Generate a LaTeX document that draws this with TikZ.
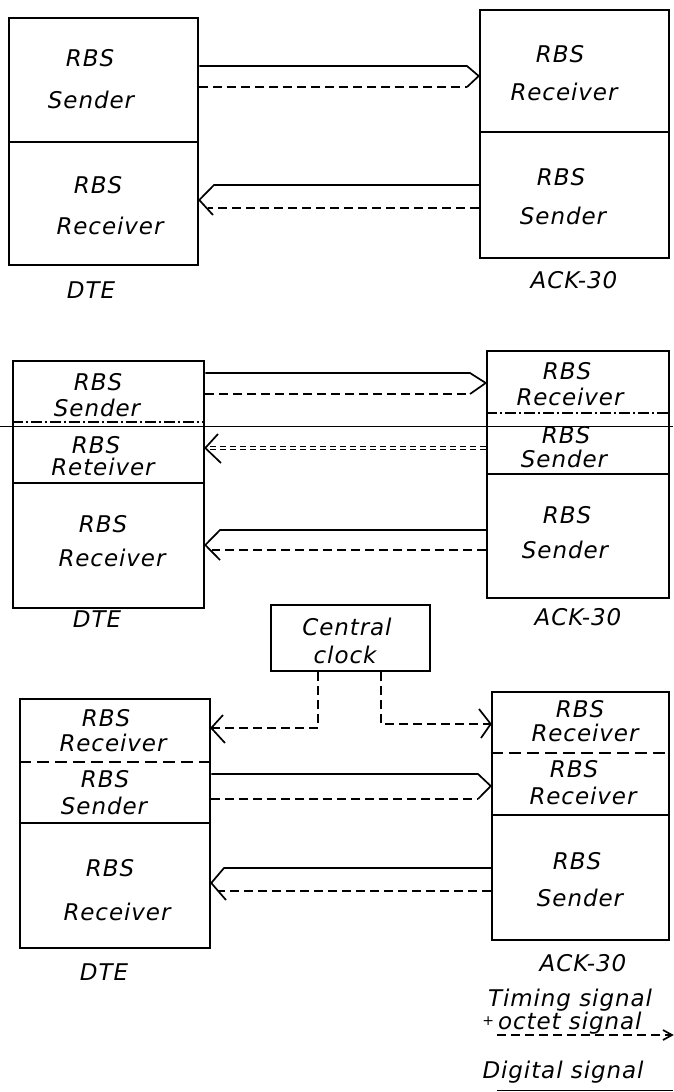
\documentclass[tikz,border=0pt]{standalone}
\usepackage{fontspec}
\newfontfamily\hand{DejaVu Sans}[LetterSpace=4]
\usetikzlibrary{calc}
\begin{document}
\begin{tikzpicture}[x=1pt,y=-1pt,
  box/.style={draw, line width=2.5pt, inner sep=0pt},
  divline/.style={line width=2.5pt},
  dashdiv/.style={line width=2.2pt, dash pattern=on 11pt off 3pt on 2pt off 3pt},
  longdiv/.style={line width=2.4pt, dash pattern=on 12pt off 6pt},
  lbl/.style={font=\hand\itshape\fontsize{23}{27}\selectfont, inner sep=0pt},
  sig/.style={line width=1.7pt, line join=miter},
  dsh/.style={line width=1.7pt, dash pattern=on 9pt off 5pt},
  dbl/.style={line width=1.2pt, double distance=2.2pt, dash pattern=on 6pt off 4pt}]
\fill[white] (0,0) rectangle (673,1092);
\useasboundingbox (0,0) rectangle (673,1092);

% ---------- section 1 ----------
\node[box, minimum width=189pt, minimum height=247pt] (dte1) at (103.5,141.5) {};
\node[box, minimum width=189pt, minimum height=248pt] (ack1) at (574.5,134) {};
\draw[divline] (dte1.west |- 0,142) -- (dte1.east |- 0,142);
\draw[divline] (ack1.west |- 0,132) -- (ack1.east |- 0,132);
\node[lbl] (t1a) at (90,58) {RBS};
\node[lbl] (t1b) at (91,100) {Sender};
\node[lbl] (t1c) at (98,185) {RBS};
\node[lbl] (t1d) at (110,226) {Receiver};
\node[lbl] (t1e) at (560,54) {RBS};
\node[lbl] (t1f) at (564,92) {Receiver};
\node[lbl] (t1g) at (561,177) {RBS};
\node[lbl] (t1h) at (563,216) {Sender};
\node[lbl] (dtel1) at (91,290) {DTE};
\node[lbl] (ackl1) at (574,280) {ACK-30};

\draw[sig] (dte1.east |- 0,66) -- (467,66) -- (ack1.west |- 0,76) -- (467,87);
\draw[dsh] (dte1.east |- 0,87) -- (467,87);
\draw[sig] (ack1.west |- 0,185) -- (214,185) -- (dte1.east |- 0,200) -- (213,215);
\draw[dsh] (ack1.west |- 0,208) -- (208,208);

% ---------- section 2 ----------
\node[box, minimum width=191pt, minimum height=247pt] (dte2) at (108.5,484.5) {};
\node[box, minimum width=182pt, minimum height=247pt] (ack2) at (578,474.5) {};
\draw[dashdiv] (dte2.west |- 0,422) -- (dte2.east |- 0,422);
\draw[divline] (dte2.west |- 0,483) -- (dte2.east |- 0,483);
\draw[dashdiv] (ack2.west |- 0,413) -- (ack2.east |- 0,413);
\draw[divline] (ack2.west |- 0,474) -- (ack2.east |- 0,474);
\node[lbl] (t2a) at (98,382) {RBS};
\node[lbl] (t2b) at (97,408) {Sender};
\node[lbl] (t2c) at (96,445) {RBS};
\node[lbl] (t2d) at (103,467) {Reteiver};
\node[lbl] (t2e) at (103,524) {RBS};
\node[lbl] (t2f) at (112,558) {Receiver};
\node[lbl] (t2g) at (567,371) {RBS};
\node[lbl] (t2h) at (570,397) {Receiver};
\node[lbl] (t2i) at (566,435) {RBS};
\node[lbl] (t2j) at (564,459) {Sender};
\node[lbl] (t2k) at (567,515) {RBS};
\node[lbl] (t2l) at (565,550) {Sender};
\node[lbl] (dtel2) at (97,619) {DTE};
\node[lbl] (ackl2) at (578,617) {ACK-30};

\draw[sig] (dte2.east |- 0,373) -- (470,373) -- (ack2.west |- 0,383) -- (470,394);
\draw[dsh] (dte2.east |- 0,394) -- (470,394);
\draw[dbl] (ack2.west |- 0,448) -- (210,448);
\draw[sig] (218,434) -- (dte2.east |- 0,448) -- (221,463);
\draw[sig] (ack2.west |- 0,530) -- (220,530) -- (dte2.east |- 0,545) -- (220,560);
\draw[dsh] (ack2.west |- 0,550) -- (212,550);

% thin line across the page
\draw[line width=0.7pt] (0,426.5) -- (673,426.5);

% ---------- section 3 ----------
\node[box, minimum width=159pt, minimum height=66pt] (clock) at (350.5,638) {};
\node[lbl] (c1) at (347,627) {Central};
\node[lbl] (c2) at (345,655) {clock};
\node[box, minimum width=190pt, minimum height=249pt] (dte3) at (115,823.5) {};
\node[box, minimum width=177pt, minimum height=248pt] (ack3) at (580.5,816) {};
\draw[longdiv] (dte3.west |- 0,762) -- (dte3.east |- 0,762);
\draw[divline] (dte3.west |- 0,823) -- (dte3.east |- 0,823);
\draw[longdiv] (ack3.west |- 0,753) -- (ack3.east |- 0,753);
\draw[divline] (ack3.west |- 0,815) -- (ack3.east |- 0,815);
\node[lbl] (t3a) at (106,718) {RBS};
\node[lbl] (t3b) at (113,743) {Receiver};
\node[lbl] (t3c) at (105,779) {RBS};
\node[lbl] (t3d) at (104,806) {Sender};
\node[lbl] (t3e) at (110,868) {RBS};
\node[lbl] (t3f) at (117,912) {Receiver};
\node[lbl] (t3g) at (580,709) {RBS};
\node[lbl] (t3h) at (585,733) {Receiver};
\node[lbl] (t3i) at (574,769) {RBS};
\node[lbl] (t3j) at (583,796) {Receiver};
\node[lbl] (t3k) at (577,861) {RBS};
\node[lbl] (t3l) at (580,898) {Sender};
\node[lbl] (dtel3) at (104,972) {DTE};
\node[lbl] (ackl3) at (583,963) {ACK-30};

\draw[dsh] (318,0 |- clock.south) -- (318,728) -- (dte3.east |- 0,728);
\draw[sig] (223,715) -- (dte3.east |- 0,728) -- (225,743);
\draw[dsh] (381,0 |- clock.south) -- (381,724) -- (ack3.west |- 0,724);
\draw[sig] (479,709) -- (ack3.west |- 0,724) -- (481,738);

\draw[sig] (dte3.east |- 0,774) -- (478,774) -- (ack3.west |- 0,786) -- (478,799);
\draw[dsh] (dte3.east |- 0,799) -- (478,799);
\draw[sig] (ack3.west |- 0,868) -- (224,868) -- (dte3.east |- 0,883) -- (226,900);
\draw[dsh] (ack3.west |- 0,891) -- (218,891);

% ---------- legend ----------
\node[lbl] (lg1) at (570,1000) {Timing signal};
\node[lbl] (lg2) at (562,1023) {\raisebox{4pt}{\fontsize{14}{16}\selectfont +}\,octet signal};
\node[lbl] (lg3) at (563,1072) {Digital signal};
\coordinate (la) at (497,1035);
\coordinate (lb) at (672,1035);
\draw[dsh] (la) -- (lb);
\draw[sig] (663,1030) -- (lb) -- (663,1040);
\coordinate (lc) at (497,1090.5);
\coordinate (ld) at (673,1090.5);
\draw[sig] (lc) -- (ld);
\end{tikzpicture}
\end{document}
